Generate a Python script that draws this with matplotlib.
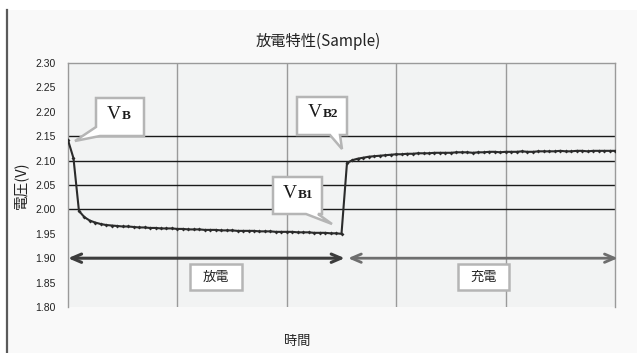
import matplotlib
matplotlib.use("Agg")
import matplotlib.pyplot as plt
from matplotlib.patches import Polygon, Rectangle
from matplotlib.lines import Line2D

# ---- data -------------------------------------------------------------
title = "放電特性(Sample)"
y_label = "電圧(V)"
x_label = "時間"
y_ticks = [1.80, 1.85, 1.90, 1.95, 2.00, 2.05, 2.10, 2.15, 2.20, 2.25, 2.30]
y_tick_labels = ["1.80", "1.85", "1.90", "1.95", "2.00", "2.05",
                 "2.10", "2.15", "2.20", "2.25", "2.30"]
ref_lines = [2.00, 2.05, 2.10, 2.15]
phase_names = ["放電", "充電"]

discharge_t = list(range(0, 51))
discharge_v = [2.142, 2.105, 1.997, 1.984, 1.977, 1.973, 1.970, 1.968, 1.967, 1.966,
               1.965, 1.965, 1.964, 1.963, 1.963, 1.962, 1.962, 1.961, 1.961, 1.961,
               1.960, 1.960, 1.959, 1.959, 1.959, 1.958, 1.958, 1.958, 1.957, 1.957,
               1.957, 1.956, 1.956, 1.956, 1.956, 1.955, 1.955, 1.955, 1.954, 1.954,
               1.954, 1.954, 1.953, 1.953, 1.953, 1.952, 1.952, 1.952, 1.951, 1.951,
               1.950]

charge_t = list(range(51, 101))
charge_v = [2.095, 2.101, 2.104, 2.106, 2.108, 2.109, 2.110, 2.111, 2.112, 2.113,
            2.113, 2.114, 2.114, 2.115, 2.115, 2.115, 2.116, 2.116, 2.116, 2.116,
            2.117, 2.117, 2.117, 2.116, 2.117, 2.117, 2.118, 2.118, 2.117, 2.118,
            2.118, 2.118, 2.119, 2.118, 2.118, 2.119, 2.119, 2.119, 2.119, 2.120,
            2.119, 2.119, 2.120, 2.120, 2.119, 2.120, 2.120, 2.120, 2.120, 2.120]

t_min, t_max = 0, 100
grid_t = [0, 20, 40, 60, 80, 100]

# ---- figure ------------------------------------------------------------
W, H = 637, 353
fig = plt.figure(figsize=(W / 100, H / 100), dpi=100)
fig.patch.set_facecolor("white")
jp = ["Noto Sans CJK JP", "DejaVu Sans"]


def fx(px):
    return px / W


def fy(py):
    return 1 - py / H


# chart area background and its left border
fig.add_artist(Rectangle((fx(7), 0), 1 - fx(7), fy(10), transform=fig.transFigure,
                         facecolor="#f9f9f9", edgecolor="none", zorder=0))
fig.add_artist(Line2D([fx(7), fx(7)], [0, fy(10)], transform=fig.transFigure,
                      color="#5a5a5a", lw=1.6, zorder=1))

ax = fig.add_axes([fx(68), fy(307), fx(615) - fx(68), fy(63) - fy(307)])
ax.set_facecolor("#f2f3f3")
ax.set_xlim(t_min, t_max)
ax.set_ylim(1.80, 2.30)
ax.set_yticks(y_ticks)
ax.set_yticklabels(y_tick_labels, fontsize=7.5, color="#222222",
                   family=["Liberation Sans", "DejaVu Sans"])
ax.set_xticks([])
ax.tick_params(axis="y", length=0, pad=9)
for side in ("top", "left", "right"):
    ax.spines[side].set_color("#9a9a9a")
    ax.spines[side].set_linewidth(1.0)
ax.spines["bottom"].set_visible(False)

for gt in grid_t[1:-1]:
    ax.axvline(gt, color="#9a9a9a", lw=1.0, zorder=1)
for rv in ref_lines:
    ax.axhline(rv, color="#1a1a1a", lw=1.0, zorder=2)

# measured voltage
all_t = discharge_t + charge_t
all_v = discharge_v + charge_v
ax.plot(all_t, all_v, color="#2b2b2b", lw=1.5, marker="D", markersize=2.0,
        markerfacecolor="#2b2b2b", markeredgewidth=0, zorder=5)

# phase arrows along 1.90 V
ax.annotate("", xy=(0.0, 1.90), xytext=(50.6, 1.90), annotation_clip=False,
            arrowprops=dict(arrowstyle="<->,head_length=0.7,head_width=0.3",
                            color="#3c3c3c", lw=2.2, shrinkA=0, shrinkB=0), zorder=4)
ax.annotate("", xy=(51.2, 1.90), xytext=(100.5, 1.90), annotation_clip=False,
            arrowprops=dict(arrowstyle="<->,head_length=0.7,head_width=0.3",
                            color="#6e6e6e", lw=2.0, shrinkA=0, shrinkB=0), zorder=4)

ax.set_ylabel(y_label, family=jp, fontsize=10.5, color="#222222", labelpad=5)
fig.text(fx(297), fy(341), x_label, family=jp, fontsize=9.5, color="#222222",
         ha="center", va="center")
fig.text(fx(318), fy(41), title, family=jp, fontsize=11, color="#222222",
         ha="center", va="center")


def callout(pts, zorder=10):
    poly = Polygon([(fx(x), fy(y)) for x, y in pts], closed=True,
                   transform=fig.transFigure, facecolor="white",
                   edgecolor="#b5b5b5", lw=1.8, zorder=zorder)
    fig.add_artist(poly)


def vlabel(px, py, sub):
    fig.text(fx(px), fy(py), "V", family=["Liberation Serif", "DejaVu Serif"],
             fontsize=14, color="#1a1a1a", ha="right", va="baseline", zorder=11)
    fig.text(fx(px + 0.5), fy(py), sub, family=["Liberation Serif", "DejaVu Serif"],
             fontsize=9.5, fontweight="bold", color="#1a1a1a", ha="left",
             va="baseline", zorder=11)


# V_B callout
callout([(96, 98), (144, 98), (144, 136), (100, 136), (75, 141), (96, 127)])
vlabel(121, 119, "B")
# V_B2 callout
callout([(297, 97), (347, 97), (347, 135), (340, 135), (342, 149), (330, 135), (297, 135)])
vlabel(322, 117, "B2")
# V_B1 callout
callout([(273, 177), (322, 177), (322, 214), (318, 214), (332, 224), (306, 214), (273, 214)])
vlabel(297, 198, "B1")

# phase labels
for (x0, x1), name in zip([(190, 242), (458, 509)], phase_names):
    fig.add_artist(Rectangle((fx(x0), fy(290)), fx(x1) - fx(x0), fy(264) - fy(290),
                             transform=fig.transFigure, facecolor="white",
                             edgecolor="#b5b5b5", lw=1.8, zorder=10))
    fig.text(fx((x0 + x1) / 2), fy(277.5), name, family=jp, fontsize=9.5,
             color="#222222", ha="center", va="center", zorder=11)

fig.savefig("out.png", dpi=100, facecolor=fig.get_facecolor())
